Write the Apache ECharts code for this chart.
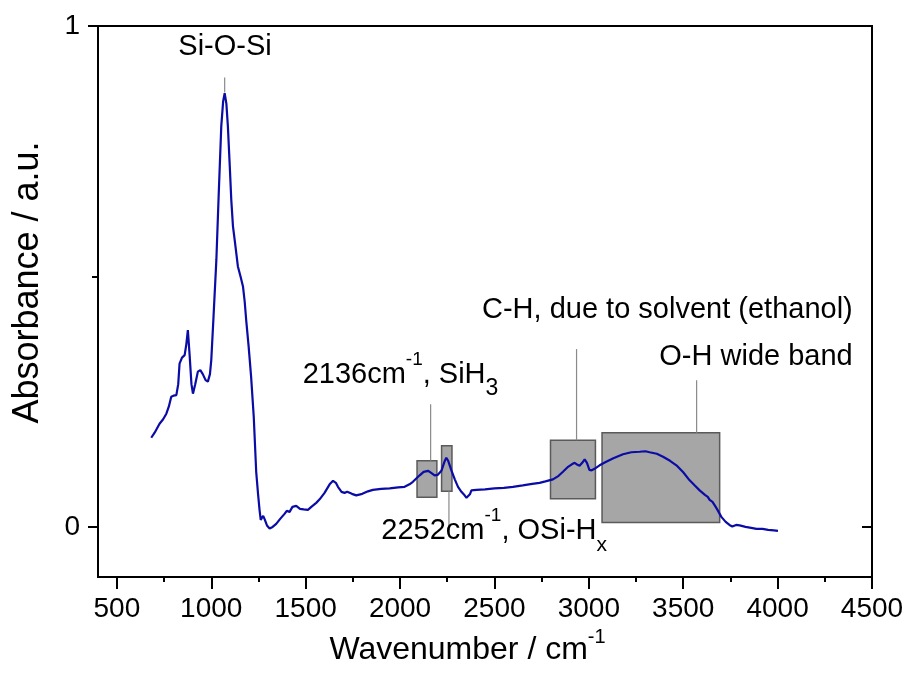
<!DOCTYPE html>
<html>
<head>
<meta charset="utf-8">
<script src="https://cdn.jsdelivr.net/npm/echarts@6/dist/echarts.min.js"></script>
<style>
  html, body { margin: 0; padding: 0; background: #fff; }
  #chart { width: 908px; height: 688px; }
</style>
</head>
<body>
<div id="chart"></div>
<script>
// spectrum: wavenumber (cm-1) and absorbance
const wavenumbers = [682, 700, 726, 745, 762, 775, 788, 800, 815, 825, 832, 845, 859, 868, 876, 885, 895, 903, 915, 929,
  942, 955, 970, 982, 993, 1000, 1012, 1027, 1040, 1053, 1063, 1071, 1080, 1088, 1098, 1106, 1115, 1124, 1133, 1141,
  1155, 1168, 1177, 1185, 1198, 1211, 1225, 1238, 1248, 1256, 1262, 1268, 1275, 1282, 1295, 1309, 1325, 1344, 1365, 1388,
  1400, 1415, 1430, 1450, 1470, 1490, 1512, 1530, 1556, 1574, 1600, 1627, 1645, 1660, 1671, 1690, 1706, 1720, 1745, 1768,
  1800, 1830, 1856, 1900, 1945, 1990, 2024, 2050, 2068, 2090, 2104, 2125, 2148, 2165, 2183, 2200, 2219, 2235, 2245, 2255,
  2272, 2290, 2307, 2325, 2342, 2352, 2360, 2370, 2378, 2404, 2450, 2500, 2550, 2598, 2650, 2700, 2739, 2770, 2810, 2840,
  2863, 2890, 2910, 2925, 2940, 2951, 2965, 2978, 2990, 3003, 3015, 3030, 3057, 3092, 3130, 3181, 3225, 3269, 3300, 3322,
  3360, 3393, 3430, 3464, 3500, 3534, 3560, 3587, 3615, 3630, 3640, 3655, 3667, 3680, 3702, 3725, 3745, 3760, 3780, 3799,
  3830, 3860, 3888, 3920, 3950, 3980, 4002];
const absorbance = [0.178, 0.188, 0.206, 0.215, 0.226, 0.240, 0.260, 0.262, 0.263, 0.285, 0.326, 0.338, 0.343, 0.365, 0.393, 0.345, 0.285, 0.266, 0.285, 0.310,
  0.313, 0.305, 0.293, 0.290, 0.305, 0.333, 0.42, 0.533, 0.67, 0.80, 0.85, 0.866, 0.845, 0.80, 0.72, 0.653, 0.60, 0.573, 0.545, 0.52,
  0.50, 0.48, 0.45, 0.413, 0.36, 0.30, 0.22, 0.11, 0.065, 0.033, 0.014, 0.018, 0.022, 0.016, 0.003, -0.003, 0.000, 0.006, 0.016, 0.026,
  0.032, 0.030, 0.040, 0.042, 0.036, 0.035, 0.034, 0.040, 0.048, 0.055, 0.068, 0.085, 0.092, 0.088, 0.080, 0.070, 0.068, 0.070, 0.066, 0.063,
  0.066, 0.071, 0.074, 0.076, 0.077, 0.079, 0.080, 0.085, 0.090, 0.098, 0.103, 0.110, 0.112, 0.108, 0.103, 0.104, 0.112, 0.130, 0.138, 0.132,
  0.113, 0.095, 0.080, 0.070, 0.063, 0.058, 0.055, 0.065, 0.073, 0.074, 0.075, 0.077, 0.078, 0.080, 0.083, 0.086, 0.088, 0.091, 0.095, 0.102,
  0.110, 0.120, 0.125, 0.128, 0.124, 0.122, 0.128, 0.135, 0.128, 0.114, 0.113, 0.116, 0.123, 0.130, 0.137, 0.145, 0.149, 0.150, 0.151, 0.149,
  0.146, 0.140, 0.132, 0.123, 0.109, 0.093, 0.083, 0.073, 0.064, 0.060, 0.054, 0.050, 0.043, 0.035, 0.020, 0.010, 0.004, 0.001, 0.004, 0.003,
  0.000, -0.002, -0.004, -0.004, -0.006, -0.007, -0.008];

// tick values
const xMajorTicks = [500, 1000, 1500, 2000, 2500, 3000, 3500, 4000, 4500];
const xMinorTicks = [750, 1250, 1750, 2250, 2750, 3250, 3750, 4250];
const yMajorTicks = [0, 1];
const yMinorTicks = [0.5];

// gray highlight boxes: [x0, x1, y0, y1] in data units
const boxes = [[2090, 2195, 0.059, 0.132], [2220, 2275, 0.071, 0.162], [2797, 3035, 0.056, 0.173], [3070, 3693, 0.009, 0.188]];
// pointer lines: [x, yFrom, yTo]
const pointers = [[1071, 0.897, 0.867], [2162, 0.245, 0.132], [2259, 0.071, -0.007], [2935, 0.355, 0.173], [3571, 0.293, 0.188]];
// annotation texts and where they sit
const noteText = ['Si-O-Si', '2136cm{sup|-1}, SiH{sub|3}', '2252cm{sup|-1}, OSi-H{subx|x}', 'C-H, due to solvent (ethanol)', 'O-H wide band'];
const noteX = [1073, 1484, 1901, 4398, 4398];
const noteY = [0.959, 0.303, -0.008, 0.433, 0.339];
const noteAlign = ['center', 'left', 'left', 'right', 'right'];

const FONT = '"Liberation Sans", Arial, sans-serif';
const richNotes = {
  sup: { fontSize: 19, fontFamily: FONT, font: '19px ' + FONT, lineHeight: 31, verticalAlign: 'top', fill: '#000' },
  sub: { fontSize: 23, fontFamily: FONT, font: '23px ' + FONT, lineHeight: 32, verticalAlign: 'bottom', fill: '#000' },
  subx: { fontSize: 21, fontFamily: FONT, font: '21px ' + FONT, lineHeight: 16, verticalAlign: 'bottom', fill: '#000' }
};

const spectrum = wavenumbers.map((w, i) => [w, absorbance[i]]);

const chart = echarts.init(document.getElementById('chart'));

const tickAxisX = (ticks, len, show) => ({
  type: 'value', min: 400, max: 4500, position: 'bottom',
  axisLine: { show: false, onZero: false },
  splitLine: { show: false },
  axisTick: { show: true, inside: false, customValues: ticks, length: len, lineStyle: { color: '#000', width: 2 } },
  axisLabel: show ? {
    show: true, customValues: ticks, fontSize: 28, fontFamily: FONT, color: '#000', margin: 18,
    formatter: v => String(v)
  } : { show: false }
});

const option = {
  animation: false,
  backgroundColor: '#fff',
  grid: { left: 98, right: 36, top: 26, bottom: 111, show: true, borderColor: '#000', borderWidth: 2 },
  xAxis: [
    Object.assign(tickAxisX(xMajorTicks, 12, true), {
      name: 'Wavenumber / cm{sup|-1}', nameLocation: 'middle', nameGap: 50,
      nameTextStyle: { fontSize: 32, fontFamily: FONT, color: '#000', lineHeight: 44, padding: [0, 35, 0, 0],
        rich: { sup: { fontSize: 20, fontFamily: FONT, color: '#000', lineHeight: 22, verticalAlign: 'top' } } }
    }),
    tickAxisX(xMinorTicks, 5, false)
  ],
  yAxis: [
    {
      type: 'value', min: -0.1, max: 1, position: 'left',
      axisLine: { show: false }, splitLine: { show: false },
      axisTick: { show: true, customValues: yMajorTicks, length: 10, lineStyle: { color: '#000', width: 2 } },
      axisLabel: { show: true, customValues: yMajorTicks, fontSize: 28, fontFamily: FONT, color: '#000', margin: 18 },
      name: 'Absorbance / a.u.', nameLocation: 'middle', nameGap: 52,
      nameTextStyle: { fontSize: 36, fontFamily: FONT, color: '#000', padding: [0, 0, 0, 38] }
    },
    {
      type: 'value', min: -0.1, max: 1, position: 'left',
      axisLine: { show: false }, splitLine: { show: false }, axisLabel: { show: false },
      axisTick: { show: true, customValues: yMinorTicks, length: 6, lineStyle: { color: '#000', width: 2 } }
    },
    {
      type: 'value', min: -0.1, max: 1, position: 'right',
      axisLine: { show: false }, splitLine: { show: false }, axisLabel: { show: false },
      axisTick: { show: true, inside: true, customValues: yMajorTicks, length: 10, lineStyle: { color: '#000', width: 2 } }
    }
  ],
  series: [
    {
      type: 'custom', z: 1, silent: true,
      data: boxes.map((b, i) => i),
      renderItem: function (params, api) {
        const b = boxes[params.dataIndex];
        const p0 = api.coord([b[0], b[3]]);
        const p1 = api.coord([b[1], b[2]]);
        return {
          type: 'rect',
          shape: { x: p0[0], y: p0[1], width: p1[0] - p0[0], height: p1[1] - p0[1] },
          style: { fill: '#a6a6a6', stroke: '#5a5a5a', lineWidth: 1.5 }
        };
      }
    },
    {
      type: 'custom', z: 1, silent: true,
      data: pointers.map((p, i) => i),
      renderItem: function (params, api) {
        const p = pointers[params.dataIndex];
        const a = api.coord([p[0], p[1]]);
        const b = api.coord([p[0], p[2]]);
        return {
          type: 'line',
          shape: { x1: a[0], y1: a[1], x2: b[0], y2: b[1] },
          style: { stroke: '#8a8a8a', lineWidth: 1.2 }
        };
      }
    },
    {
      type: 'line', data: spectrum, showSymbol: false, z: 3,
      lineStyle: { color: '#0b0ba6', width: 2.2 },
      clip: true
    },
    {
      type: 'custom', z: 4, silent: true, clip: false,
      data: noteText.map((t, i) => i),
      renderItem: function (params, api) {
        const i = params.dataIndex;
        const c = api.coord([noteX[i], noteY[i]]);
        return {
          type: 'text',
          x: c[0], y: c[1],
          style: {
            text: noteText[i], fontSize: 29, fontFamily: FONT, font: '29px ' + FONT, lineHeight: 50,
            fill: '#000', align: noteAlign[i], verticalAlign: 'middle', rich: richNotes
          }
        };
      }
    }
  ]
};

chart.setOption(option);
</script>
</body>
</html>
